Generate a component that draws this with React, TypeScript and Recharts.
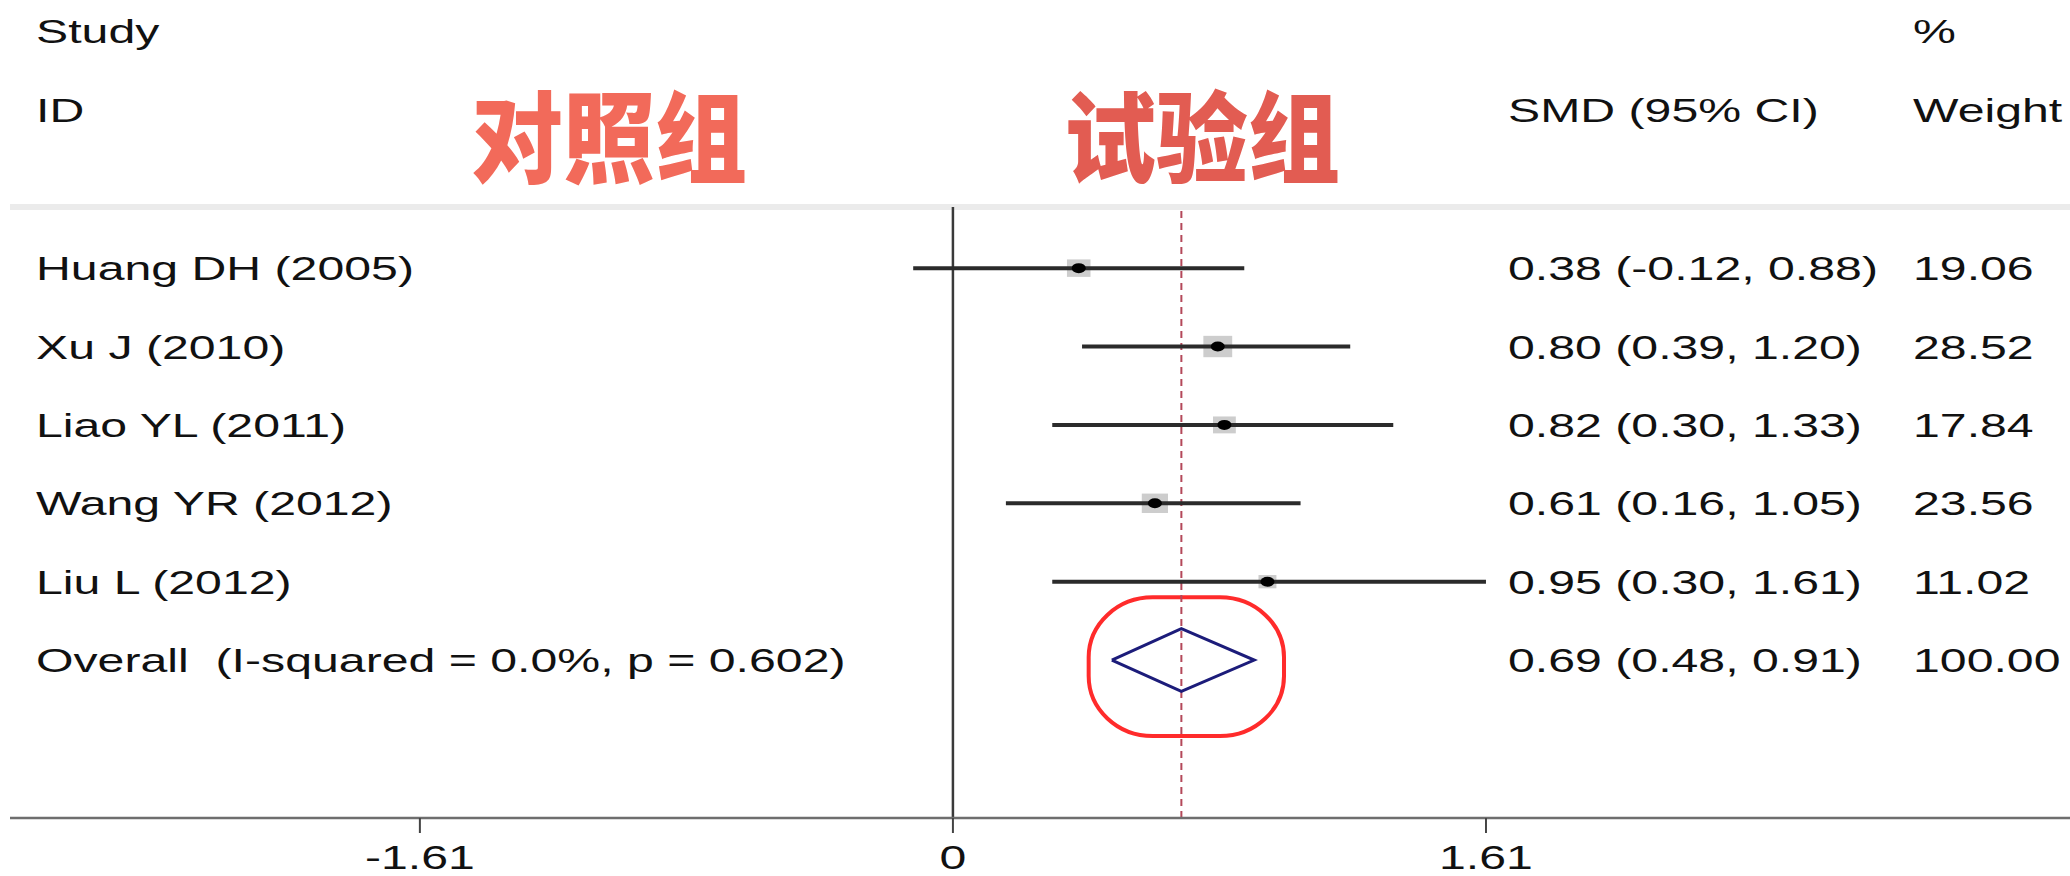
import React from 'react';
import {
  ScatterChart,
  Scatter,
  XAxis,
  YAxis,
  ReferenceLine,
  ReferenceArea,
} from 'recharts';

// study rows, top to bottom
const studies = ['Huang DH (2005)', 'Xu J (2010)', 'Liao YL (2011)', 'Wang YR (2012)', 'Liu L (2012)'];
const smd = [0.38, 0.8, 0.82, 0.61, 0.95];
const ciLow = [-0.12, 0.39, 0.3, 0.16, 0.3];
const ciHigh = [0.88, 1.2, 1.33, 1.05, 1.61];
const weights = [19.06, 28.52, 17.84, 23.56, 11.02];

// pooled estimate
const overallLabel = 'Overall  (I-squared = 0.0%, p = 0.602)';
const overallSmd = 0.69;
const overallLow = 0.48;
const overallHigh = 0.91;
const overallWeight = 100.0;

const xTicks = [-1.61, 0, 1.61];

const W = 2070;
const H = 876;
const X_DOMAIN: [number, number] = [-2.848, 3.374];
const Y_DOMAIN: [number, number] = [-0.78, 7.015];
const DIAMOND_HALF = 0.4; // in row units
const SX = 1.44; // horizontal stretch of the text
const FONT = '"Liberation Sans", Arial, sans-serif';
const FS = 33.5;

const studyRows = studies.map((name, i) => ({
  name,
  x: smd[i],
  y: i,
  lo: ciLow[i],
  hi: ciHigh[i],
  weight: weights[i],
}));

// each confidence interval as a two-point segment
const ciSegments = studyRows.map((r) => [
  { x: r.lo, y: r.y },
  { x: r.hi, y: r.y },
]);

const overallY = studies.length;
const labelRows = [
  ...studyRows,
  { name: overallLabel, x: overallSmd, y: overallY, lo: overallLow, hi: overallHigh, weight: overallWeight },
];

// closed outline of the pooled diamond
const diamond = [
  { x: overallLow, y: overallY },
  { x: overallSmd, y: overallY - DIAMOND_HALF },
  { x: overallHigh, y: overallY },
  { x: overallSmd, y: overallY + DIAMOND_HALF },
  { x: overallLow, y: overallY },
];

const fmt = (v: number) => v.toFixed(2);

function SText({ x, y, children, anchor = 'start', size = FS, fill = '#111' }: any) {
  return (
    <text
      transform={`translate(${x} ${y}) scale(${SX} 1)`}
      fontFamily={FONT}
      fontSize={size}
      textAnchor={anchor}
      fill={fill}
      style={{ whiteSpace: 'pre' }}
    >
      {children}
    </text>
  );
}

function AxisTick(props: any) {
  const { x, y, payload } = props;
  const v = payload.value;
  return (
    <SText x={x} y={y + 36} anchor="middle">
      {v === 0 ? '0' : fmt(v)}
    </SText>
  );
}

function WeightBox(props: any) {
  const { cx, cy, payload } = props;
  const w = 5.4 * Math.sqrt(payload.weight);
  const h = w / 1.35;
  return <rect x={cx - w / 2} y={cy - h / 2} width={w} height={h} fill="#cdcdcd" />;
}

function Marker(props: any) {
  const { cx, cy } = props;
  return <ellipse cx={cx} cy={cy} rx={7} ry={5} fill="#000" />;
}

function RowText(props: any) {
  const { cy, payload } = props;
  const base = cy + 12;
  return (
    <g>
      <SText x={36} y={base}>{payload.name}</SText>
      <SText x={1508} y={base}>{`${fmt(payload.x)} (${fmt(payload.lo)}, ${fmt(payload.hi)})`}</SText>
      <SText x={1913} y={base}>{fmt(payload.weight)}</SText>
    </g>
  );
}

function Stadium(props: any) {
  const { x, y, width, height } = props;
  return (
    <rect x={x} y={y} width={width} height={height} rx={64} ry={60} fill="none" stroke="#ff2b2b" strokeWidth={4} />
  );
}

const noDot = () => <g />;

export default function App() {
  return (
    <div style={{ position: 'absolute', left: 0, top: 0, width: W, height: H, background: '#fff' }}>
      <ScatterChart width={W} height={H} margin={{ top: 207, right: 0, bottom: 0, left: 10 }}>
        <XAxis
          type="number"
          dataKey="x"
          domain={X_DOMAIN}
          ticks={xTicks}
          allowDataOverflow
          height={58}
          tickSize={15}
          tickMargin={0}
          axisLine={{ stroke: '#6e6e6e', strokeWidth: 2.5 }}
          tickLine={{ stroke: '#444', strokeWidth: 2 }}
          tick={<AxisTick />}
        />
        <YAxis type="number" dataKey="y" domain={Y_DOMAIN} reversed hide allowDataOverflow />

        <ReferenceLine y={Y_DOMAIN[0]} stroke="#ebebeb" strokeWidth={6} />
        <ReferenceLine x={0} stroke="#3a3a3a" strokeWidth={2.5} />
        <ReferenceLine x={overallSmd} stroke="#b4485a" strokeWidth={2} strokeDasharray="7 5" />
        <ReferenceArea
          x1={overallLow - 0.07}
          x2={overallHigh + 0.09}
          y1={overallY - 0.8}
          y2={overallY + 0.97}
          shape={<Stadium />}
        />

        <Scatter data={studyRows} shape={<WeightBox />} isAnimationActive={false} />
        {ciSegments.map((seg, i) => (
          <Scatter
            key={`ci-${i}`}
            data={seg}
            shape={noDot}
            line={{ stroke: '#2b2b2b', strokeWidth: 4 }}
            lineJointType="linear"
            isAnimationActive={false}
          />
        ))}
        <Scatter data={studyRows} shape={<Marker />} isAnimationActive={false} />
        <Scatter
          data={diamond}
          shape={noDot}
          line={{ stroke: '#1c1c7a', strokeWidth: 3 }}
          lineJointType="linear"
          isAnimationActive={false}
        />
        <Scatter data={labelRows} shape={<RowText />} isAnimationActive={false} />
      </ScatterChart>

      <svg width={W} height={H} style={{ position: 'absolute', left: 0, top: 0, pointerEvents: 'none' }}>
        <SText x={36} y={43}>Study</SText>
        <SText x={36} y={122}>ID</SText>
        <SText x={1913} y={43}>%</SText>
        <SText x={1508} y={122}>SMD (95% CI)</SText>
        <SText x={1913} y={122}>Weight</SText>
        <g transform="translate(471 175) scale(1 1.08)">
          <text fontFamily='"Noto Sans CJK SC", sans-serif' fontWeight={900} fontSize={92} fill="#f26a5a">
            对照组
          </text>
        </g>
        <g transform="translate(1064 175) scale(1 1.08)">
          <text fontFamily='"Noto Sans CJK SC", sans-serif' fontWeight={900} fontSize={92} fill="#e25c52">
            试验组
          </text>
        </g>
      </svg>
    </div>
  );
}
